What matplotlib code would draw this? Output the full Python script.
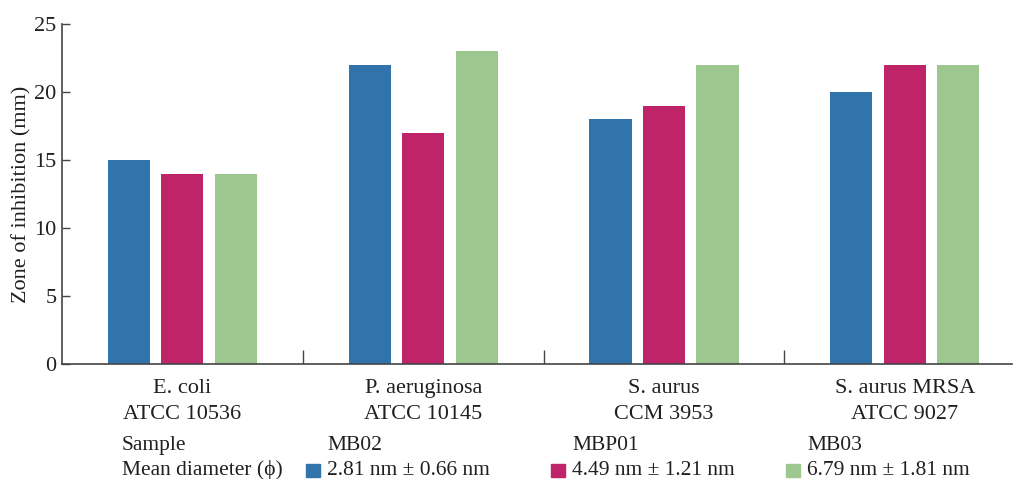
import matplotlib
matplotlib.use("Agg")
import matplotlib.pyplot as plt
from matplotlib.patches import Rectangle
import numpy as np

categories = ["E. coli\nATCC 10536", "P. aeruginosa\nATCC 10145",
              "S. aurus\nCCM 3953", "S. aurus MRSA\nATCC 9027"]
samples = ["MB02", "MBP01", "MB03"]
diameters = ["2.81 nm ± 0.66 nm", "4.49 nm ± 1.21 nm", "6.79 nm ± 1.81 nm"]
mb02 = [15, 22, 18, 20]
mbp01 = [14, 17, 19, 22]
mb03 = [14, 23, 22, 22]
series = [mb02, mbp01, mb03]
colors = ["#3174AB", "#BF2469", "#9CC88F"]

plt.rcParams['font.family'] = ['Liberation Serif', 'DejaVu Serif']
txt = "#231F20"
fs = 16
lfs = 15.5
W, H = 1013, 479
fig = plt.figure(figsize=(W / 100, H / 100), dpi=100)
ax = fig.add_axes([62 / W, (H - 364) / H, (1012 - 62) / W, (364 - 24) / H])

x = np.arange(len(categories))
width = 0.175
offset = 0.222
for i, (vals, c) in enumerate(zip(series, colors)):
    ax.bar(x + (i - 1) * offset, vals, width, color=c, zorder=2)

ax.set_xlim(-0.5, 3.445)
ax.set_ylim(0, 25)
ax.set_yticks(np.arange(0, 26, 5))
ax.set_xticks(x[:-1] + 0.5)
ax.set_xticklabels([])
ax.set_xticks(x, minor=True)
ax.set_xticklabels(categories, minor=True, fontsize=fs, color=txt, linespacing=1.5)
ax.tick_params(axis='x', which='major', direction='in', length=10, width=1, color='#444')
ax.tick_params(axis='x', which='minor', length=0, pad=11)
ax.tick_params(axis='y', direction='in', length=6, width=1, color='#444', labelsize=fs,
               labelcolor=txt, pad=4)
for s in ['top', 'right']:
    ax.spines[s].set_visible(False)
for s in ['left', 'bottom']:
    ax.spines[s].set_color('#444')
    ax.spines[s].set_linewidth(1.2)
ax.set_ylabel("Zone of inhibition (mm)", fontsize=fs, color=txt, labelpad=2)

# bottom legend block
fig.text(122 / W, (H - 450) / H, "Sample", fontsize=lfs, color=txt, va='baseline')
fig.text(122 / W, (H - 475) / H, "Mean diameter (ϕ)", fontsize=lfs, color=txt, va='baseline')
sq_x = [306, 551, 786]
for sx, name, d, c in zip(sq_x, samples, diameters, colors):
    fig.text((sx + 21) / W, (H - 450) / H, name, fontsize=lfs, color=txt, va='baseline')
    fig.add_artist(Rectangle((sx / W, (H - 477) / H), 14 / W, 13 / H,
                             transform=fig.transFigure, color=c))
    fig.text((sx + 21) / W, (H - 475) / H, d, fontsize=lfs, color=txt, va='baseline')

fig.savefig("out.png", dpi=100)
